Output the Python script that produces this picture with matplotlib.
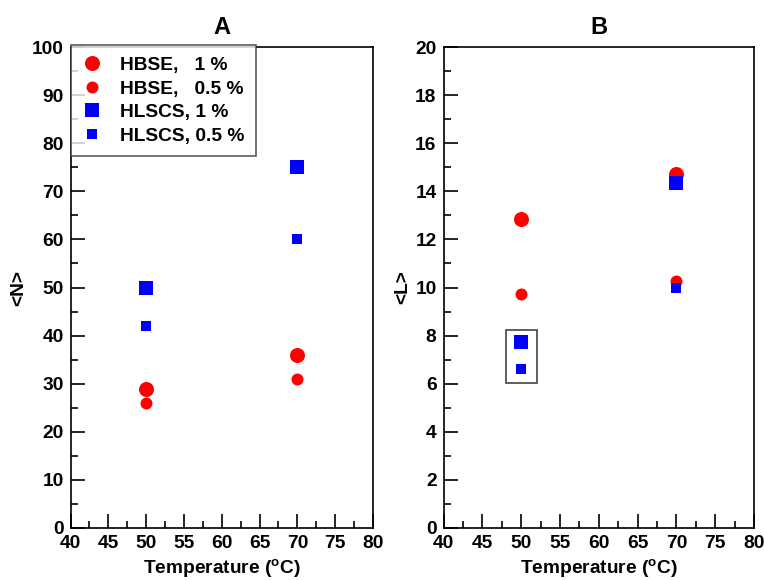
import matplotlib
matplotlib.use("Agg")
import matplotlib.pyplot as plt
from matplotlib.ticker import MultipleLocator
from matplotlib.lines import Line2D
from matplotlib.patches import Rectangle

plt.rcParams['font.family'] = ['Liberation Sans', 'DejaVu Sans']
plt.rcParams['font.weight'] = 'bold'
plt.rcParams['mathtext.fontset'] = 'custom'
plt.rcParams['mathtext.rm'] = 'Liberation Sans:bold'
plt.rcParams['mathtext.bf'] = 'Liberation Sans:bold'

# Temperatures (deg C)
temps = [50, 70]

# Panel A: mean aggregation number <N>
n_hbse_1 = [29, 36]
n_hbse_05 = [26, 31]
n_hlscs_1 = [50, 75]
n_hlscs_05 = [42, 60]

# Panel B: mean length <L>
l_hbse_1 = [12.85, 14.7]
l_hbse_05 = [9.75, 10.25]
l_hlscs_1 = [7.75, 14.35]
l_hlscs_05 = [6.6, 10.0]

series_labels = ["HBSE,   1 %", "HBSE,   0.5 %", "HLSCS, 1 %", "HLSCS, 0.5 %"]

styles = [
    dict(marker='o', color='#ff0000', ms=10.8),
    dict(marker='o', color='#ff0000', ms=8.6),
    dict(marker='s', color='#0000ff', ms=9.4),
    dict(marker='s', color='#0000ff', ms=7.2),
]

FS = 13.8

W, H = 764, 580
fig = plt.figure(figsize=(W / 100, H / 100), dpi=100)

def px_axes(x0, x1, y0, y1):
    return fig.add_axes([x0 / W, 1 - y1 / H, (x1 - x0) / W, (y1 - y0) / H])

axA = px_axes(70.5, 373, 47, 528)
axB = px_axes(443.5, 754, 47, 528)

def style_axes(ax, ymax, ymaj, ymin, ylabel, title, ylabelpad):
    ax.set_xlim(40, 80)
    ax.set_ylim(0, ymax)
    ax.xaxis.set_major_locator(MultipleLocator(5))
    ax.xaxis.set_minor_locator(MultipleLocator(2.5))
    ax.yaxis.set_major_locator(MultipleLocator(ymaj))
    ax.yaxis.set_minor_locator(MultipleLocator(ymin))
    ax.tick_params(which='both', direction='in', top=False, right=False,
                   labelsize=FS, width=1.2)
    ax.tick_params(which='major', length=10)
    ax.tick_params(which='minor', length=5)
    ax.tick_params(axis='x', pad=5)
    ax.tick_params(axis='y', pad=5)
    for lab in ax.get_xticklabels() + ax.get_yticklabels():
        lab.set_fontweight('bold')
    for sp in ax.spines.values():
        sp.set_linewidth(1.2)
    ax.set_xlabel("Temperature ($^{\\mathbf{o}}$C)", fontsize=FS,
                  fontweight='bold', labelpad=4)
    ax.set_ylabel(ylabel, fontsize=FS, fontweight='bold', labelpad=ylabelpad)
    ax.set_title(title, fontsize=17, fontweight='bold', pad=9)

datasets_A = [n_hbse_1, n_hbse_05, n_hlscs_1, n_hlscs_05]
datasets_B = [l_hbse_1, l_hbse_05, l_hlscs_1, l_hlscs_05]

for ax, data in ((axA, datasets_A), (axB, datasets_B)):
    for vals, st in zip(data, styles):
        ax.plot(temps, vals, linestyle='none', marker=st['marker'],
                color=st['color'], markersize=st['ms'],
                markeredgewidth=0, zorder=3)

style_axes(axA, 100, 10, 5, "<N>", "A", 3)
style_axes(axB, 20, 2, 1, "<L>", "B", 3)

# Legend in panel A
handles = [Line2D([], [], linestyle='none', marker=st['marker'], color=st['color'],
                  markersize=st['ms'], markeredgewidth=0) for st in styles]
leg = axA.legend(handles, series_labels, loc='upper left',
                 bbox_to_anchor=(0.0, 1.004), prop={'size': FS, 'weight': 'bold'},
                 frameon=True, fancybox=False, borderpad=0.6, labelspacing=0.32,
                 handletextpad=1.0, handlelength=1.0, borderaxespad=0.0)
leg.get_frame().set_edgecolor('#333333')
leg.get_frame().set_linewidth(1.2)

# Highlight box around the 50 deg C HLSCS points in panel B
axB.add_patch(Rectangle((48.1, 6.03), 4.0, 2.2, fill=False,
                        edgecolor='#444444', linewidth=1.2, zorder=2))

fig.savefig("out.png", dpi=100)
